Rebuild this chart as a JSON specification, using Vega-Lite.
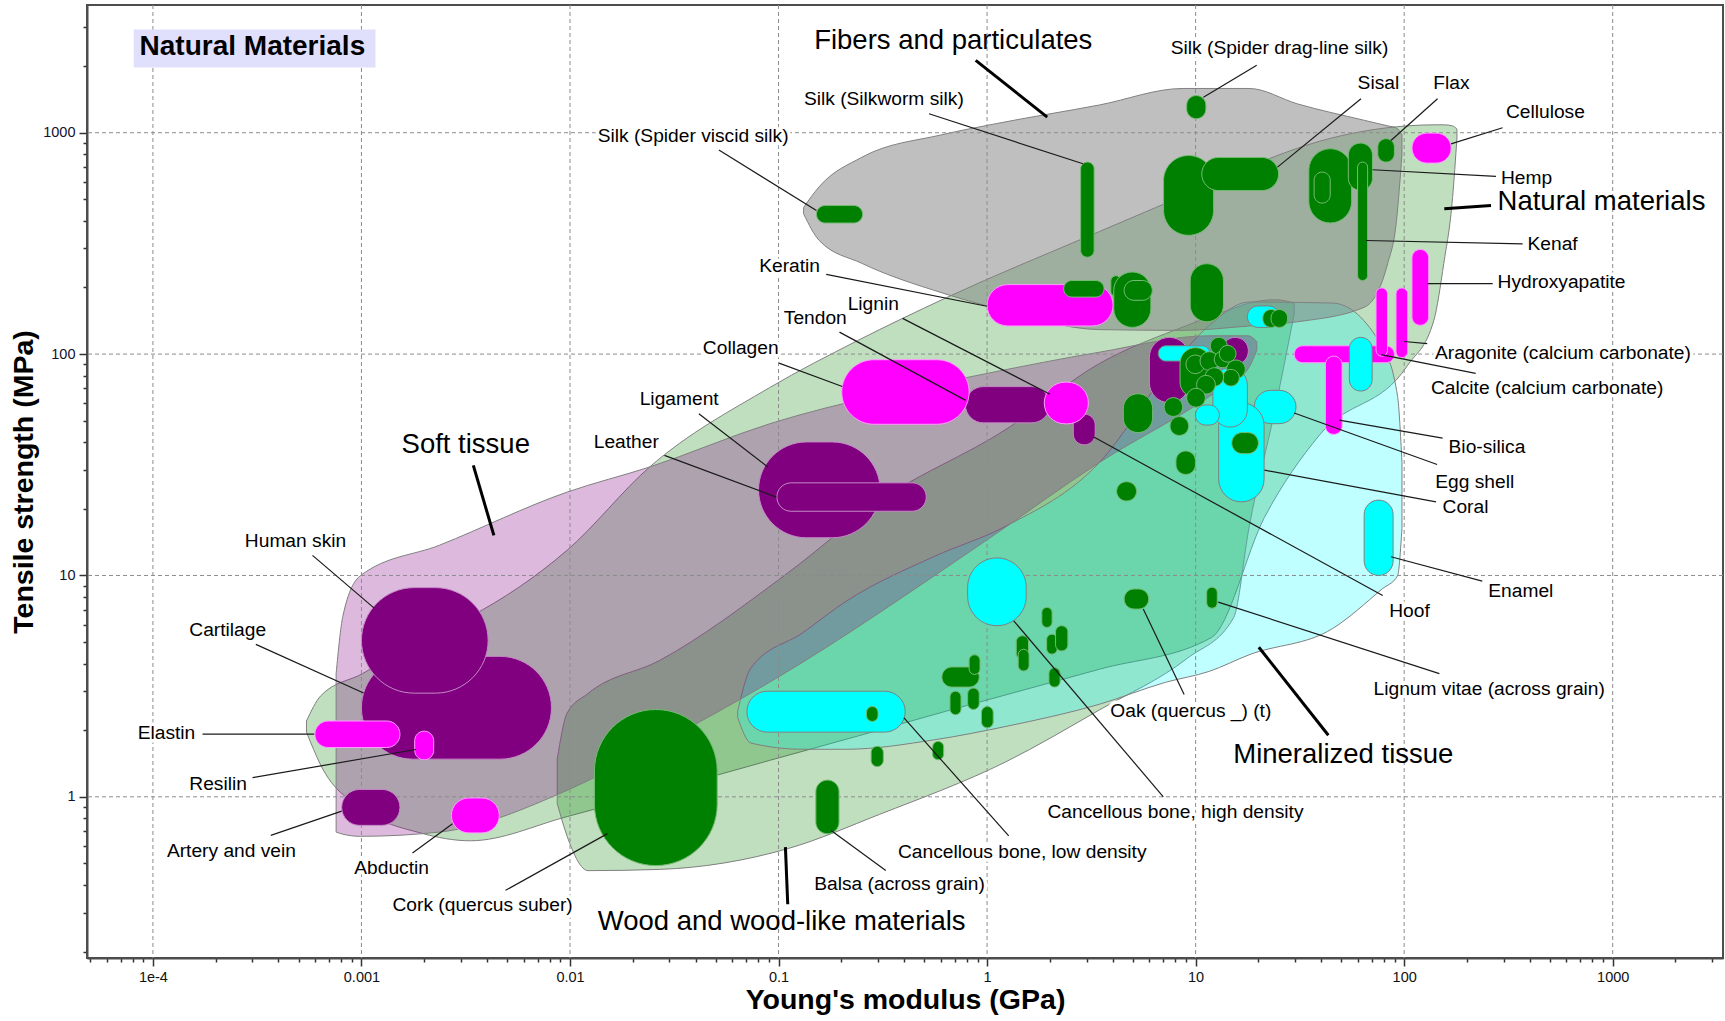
{
"$schema": "https://vega.github.io/schema/vega-lite/v6.json",
"width": 1636, "height": 953,
"autosize": {"type": "none"},
"padding": {"left": 87, "top": 5, "right": 2, "bottom": 63},
"background": "white",
"config": {"view": {"stroke": "#4d4d4d", "strokeWidth": 2}, "font": "Liberation Sans"},
"resolve": {"axis": {"x": "independent", "y": "independent"}},
"datasets": {
"envelopes": [
{"f":"natural","e":0.000545,"s":1.96,"s2":2.20},
{"f":"natural","e":0.000638,"s":1.39,"s2":2.86},
{"f":"natural","e":0.001012,"s":0.882,"s2":3.60},
{"f":"natural","e":0.001927,"s":0.686,"s2":5.19},
{"f":"natural","e":0.003328,"s":0.633,"s2":6.53},
{"f":"natural","e":0.00969,"s":0.814,"s2":13.0},
{"f":"natural","e":0.02409,"s":1.03,"s2":30.9},
{"f":"natural","e":0.0905,"s":1.46,"s2":70.5},
{"f":"natural","e":0.2391,"s":1.88,"s2":115},
{"f":"natural","e":0.6395,"s":2.44,"s2":180},
{"f":"natural","e":3.459,"s":3.77,"s2":358},
{"f":"natural","e":11.94,"s":5.25,"s2":589},
{"f":"natural","e":21.39,"s":18.3,"s2":749},
{"f":"natural","e":39.26,"s":43.1,"s2":915},
{"f":"natural","e":103.7,"s":88.7,"s2":1074},
{"f":"natural","e":138.8,"s":142,"s2":1086},
{"f":"natural","e":154.9,"s":257,"s2":1086},
{"f":"natural","e":170.7,"s":510,"s2":1074},
{"f":"natural","e":179.1,"s":947,"s2":1038},
{"f":"wood","e":0.008685,"s":0.934,"s2":1.48},
{"f":"wood","e":0.00969,"s":0.663,"s2":2.39},
{"f":"wood","e":0.01221,"s":0.464,"s2":2.93},
{"f":"wood","e":0.02688,"s":0.470,"s2":4.13},
{"f":"wood","e":0.1113,"s":0.584,"s2":10.3},
{"f":"wood","e":0.3049,"s":0.833,"s2":21.7},
{"f":"wood","e":1.232,"s":1.44,"s2":45.7},
{"f":"wood","e":3.459,"s":2.47,"s2":90.7},
{"f":"wood","e":9.14,"s":4.23,"s2":135},
{"f":"wood","e":15.22,"s":6.45,"s2":161},
{"f":"wood","e":18.04,"s":16.5,"s2":170},
{"f":"wood","e":24.15,"s":57.4,"s2":176},
{"f":"wood","e":29.69,"s":152,"s2":170},
{"f":"mineral","e":0.0637,"s":2.28,"s2":2.44},
{"f":"mineral","e":0.0736,"s":1.75,"s2":3.81},
{"f":"mineral","e":0.1303,"s":1.64,"s2":5.50},
{"f":"mineral","e":0.2118,"s":1.64,"s2":7.66},
{"f":"mineral","e":0.5597,"s":1.81,"s2":12.2},
{"f":"mineral","e":1.232,"s":2.08,"s2":16.7},
{"f":"mineral","e":3.459,"s":2.62,"s2":32.4},
{"f":"mineral","e":7.17,"s":3.29,"s2":80.9},
{"f":"mineral","e":11.65,"s":3.69,"s2":135},
{"f":"mineral","e":18.04,"s":4.38,"s2":172},
{"f":"mineral","e":45.42,"s":5.76,"s2":170},
{"f":"mineral","e":78.4,"s":8.69,"s2":108},
{"f":"mineral","e":93.0,"s":9.97,"s2":64.4},
{"f":"mineral","e":97.6,"s":16.3,"s2":32.4},
{"f":"soft","e":0.000756,"s":0.693,"s2":3.60},
{"f":"soft","e":0.000814,"s":0.678,"s2":6.53},
{"f":"soft","e":0.000988,"s":0.663,"s2":9.97},
{"f":"soft","e":0.002368,"s":0.693,"s2":13.7},
{"f":"soft","e":0.00969,"s":1.07,"s2":23.8},
{"f":"soft","e":0.02409,"s":1.65,"s2":30.9},
{"f":"soft","e":0.0905,"s":3.29,"s2":48.4},
{"f":"soft","e":1.0024,"s":14.5,"s2":81.8},
{"f":"soft","e":3.459,"s":32.4,"s2":102},
{"f":"soft","e":11.65,"s":64.4,"s2":121},
{"f":"soft","e":17.83,"s":85.7,"s2":121},
{"f":"soft","e":19.65,"s":104,"s2":114},
{"f":"fibers","e":0.1319,"s":430,"s2":460},
{"f":"fibers","e":0.1563,"s":327,"s2":569},
{"f":"fibers","e":0.2511,"s":257,"s2":775},
{"f":"fibers","e":0.6091,"s":189,"s2":980},
{"f":"fibers","e":1.105,"s":161,"s2":1099},
{"f":"fibers","e":3.459,"s":129,"s2":1335},
{"f":"fibers","e":8.71,"s":128,"s2":1585},
{"f":"fibers","e":18.04,"s":134,"s2":1585},
{"f":"fibers","e":30.79,"s":140,"s2":1350},
{"f":"fibers","e":64.6,"s":163,"s2":1137},
{"f":"fibers","e":83.4,"s":257,"s2":1074},
{"f":"fibers","e":91.9,"s":402,"s2":1050},
{"f":"fibers","e":97.6,"s":798,"s2":980}
],
"materials": [
{"n":"Cartilage","c":"soft","e":0.001,"e2":0.00815,"s":1.48,"s2":4.31},
{"n":"Human skin","c":"soft","e":0.001,"e2":0.00405,"s":2.94,"s2":8.81},
{"n":"Artery and vein","c":"soft","e":0.000804,"e2":0.00153,"s":0.743,"s2":1.08},
{"n":"Ligament","c":"soft","e":0.0802,"e2":0.307,"s":14.8,"s2":40.1},
{"n":"Leather","c":"soft","e":0.0982,"e2":0.511,"s":19.5,"s2":26.2},
{"n":"Tendon","c":"soft","e":0.787,"e2":2.0,"s":48.9,"s2":71.3},
{"n":"Hoof","c":"soft","e":2.59,"e2":3.3,"s":38.9,"s2":53.6},
{"n":"Soft tissue (unlabelled 1)","c":"soft","e":6.0,"e2":9.33,"s":60.3,"s2":119},
{"n":"Soft tissue (unlabelled 2)","c":"soft","e":13.4,"e2":17.9,"s":89.8,"s2":119},
{"n":"Elastin","c":"particulate","e":0.000598,"e2":0.00153,"s":1.67,"s2":2.20},
{"n":"Resilin","c":"particulate","e":0.0018,"e2":0.00222,"s":1.47,"s2":1.98},
{"n":"Abductin","c":"particulate","e":0.0027,"e2":0.00458,"s":0.687,"s2":0.988},
{"n":"Collagen","c":"particulate","e":0.201,"e2":0.82,"s":48.2,"s2":94.3},
{"n":"Keratin","c":"particulate","e":1.0,"e2":4.02,"s":134,"s2":206},
{"n":"Lignin","c":"particulate","e":1.88,"e2":3.06,"s":48.4,"s2":74.7},
{"n":"Cellulose","c":"particulate","e":109,"e2":168,"s":729,"s2":996},
{"n":"Hydroxyapatite","c":"particulate","e":109,"e2":131,"s":135,"s2":297},
{"n":"Particulate (unlabelled)","c":"particulate","e":29.7,"e2":89.8,"s":91.4,"s2":109},
{"n":"Calcite (calcium carbonate)","c":"particulate","e":73.3,"e2":83.2,"s":97.8,"s2":199},
{"n":"Aragonite (calcium carbonate)","c":"particulate","e":91.4,"e2":104,"s":96.4,"s2":199},
{"n":"Bio-silica","c":"particulate","e":41.9,"e2":50.4,"s":43.4,"s2":97.9},
{"n":"Cancellous bone, low density","c":"mineralized","e":0.0705,"e2":0.405,"s":1.96,"s2":3.0},
{"n":"Cancellous bone, high density","c":"mineralized","e":0.807,"e2":1.54,"s":5.93,"s2":12.0},
{"n":"Enamel","c":"mineralized","e":64.3,"e2":88.5,"s":10.0,"s2":21.9},
{"n":"Mineralized (unlabelled 1)","c":"mineralized","e":54.6,"e2":70.2,"s":68.1,"s2":119},
{"n":"Egg shell","c":"mineralized","e":19.1,"e2":30.3,"s":48.5,"s2":68.6},
{"n":"Coral","c":"mineralized","e":12.9,"e2":21.3,"s":21.5,"s2":60.3},
{"n":"Mineralized (unlabelled 2)","c":"mineralized","e":12.1,"e2":17.7,"s":46.8,"s2":86.8},
{"n":"Mineralized (unlabelled 3)","c":"mineralized","e":9.98,"e2":13.0,"s":47.8,"s2":58.9},
{"n":"Mineralized (unlabelled 4)","c":"mineralized","e":6.62,"e2":11.7,"s":93,"s2":109},
{"n":"Mineralized (unlabelled 5)","c":"mineralized","e":17.7,"e2":25.2,"s":132,"s2":165},
{"n":"Cork (quercus suber)","c":"plant","e":0.0131,"e2":0.0508,"s":0.489,"s2":2.48},
{"n":"Balsa (across grain)","c":"plant","e":0.151,"e2":0.195,"s":0.681,"s2":1.19},
{"n":"Wood 1","c":"plant","e":0.264,"e2":0.30,"s":2.19,"s2":2.56},
{"n":"Wood 2","c":"plant","e":0.278,"e2":0.318,"s":1.37,"s2":1.69},
{"n":"Wood 3","c":"plant","e":0.548,"e2":0.619,"s":1.47,"s2":1.78},
{"n":"Wood 4","c":"plant","e":0.607,"e2":0.917,"s":3.13,"s2":3.86},
{"n":"Wood 5","c":"plant","e":0.82,"e2":0.925,"s":3.57,"s2":4.38},
{"n":"Wood 6","c":"plant","e":0.664,"e2":0.75,"s":2.35,"s2":3.0},
{"n":"Wood 7","c":"plant","e":0.807,"e2":0.917,"s":2.48,"s2":3.1},
{"n":"Wood 8","c":"plant","e":0.94,"e2":1.07,"s":2.05,"s2":2.56},
{"n":"Wood 9","c":"plant","e":1.83,"e2":2.05,"s":5.82,"s2":7.18},
{"n":"Wood 10","c":"plant","e":1.38,"e2":1.58,"s":4.18,"s2":5.34},
{"n":"Wood 11","c":"plant","e":1.41,"e2":1.59,"s":3.70,"s2":4.64},
{"n":"Wood 12","c":"plant","e":1.93,"e2":2.17,"s":4.41,"s2":5.43},
{"n":"Wood 13","c":"plant","e":2.13,"e2":2.44,"s":4.56,"s2":5.93},
{"n":"Wood 14","c":"plant","e":1.98,"e2":2.24,"s":3.13,"s2":3.83},
{"n":"Oak (quercus _) (t)","c":"plant","e":4.54,"e2":5.96,"s":7.05,"s2":8.69},
{"n":"Lignum vitae (across grain)","c":"plant","e":11.3,"e2":12.7,"s":7.11,"s2":8.85},
{"n":"Wood 15","c":"plant","e":4.18,"e2":5.21,"s":21.7,"s2":26.5},
{"n":"Wood 16","c":"plant","e":8.05,"e2":9.98,"s":28.6,"s2":36.5},
{"n":"Wood 17","c":"plant","e":4.5,"e2":6.22,"s":44.2,"s2":66.2},
{"n":"Wood 18","c":"plant","e":14.9,"e2":20,"s":35.5,"s2":44.2},
{"n":"Wood 19","c":"plant","e":8.42,"e2":11.86,"s":63.6,"s2":106.9},
{"n":"Wood 20","c":"plant","e":8.99,"e2":11.04,"s":81.6,"s2":99.0},
{"n":"Wood 21","c":"plant","e":10.50,"e2":12.89,"s":84.4,"s2":102.5},
{"n":"Wood 22","c":"plant","e":11.76,"e2":14.19,"s":99.7,"s2":119},
{"n":"Wood 23","c":"plant","e":12.29,"e2":14.78,"s":86.8,"s2":103.2},
{"n":"Wood 24","c":"plant","e":12.99,"e2":15.62,"s":92.0,"s2":109.5},
{"n":"Wood 25","c":"plant","e":14.08,"e2":17.31,"s":77.4,"s2":94.0},
{"n":"Wood 26","c":"plant","e":13.47,"e2":16.2,"s":71.7,"s2":85.3},
{"n":"Wood 27","c":"plant","e":11.09,"e2":13.62,"s":71.5,"s2":86.8},
{"n":"Wood 28","c":"plant","e":10.11,"e2":12.43,"s":66.0,"s2":80.1},
{"n":"Wood 29","c":"plant","e":9.06,"e2":11.13,"s":57.6,"s2":70.0},
{"n":"Wood 30","c":"plant","e":7.06,"e2":8.66,"s":52.3,"s2":63.6},
{"n":"Wood 31","c":"plant","e":7.54,"e2":9.26,"s":42.9,"s2":52.2},
{"n":"Wood 32","c":"plant","e":21.0,"e2":25.2,"s":132,"s2":159},
{"n":"Wood 33","c":"plant","e":23.0,"e2":27.6,"s":132,"s2":159},
{"n":"Silk (Spider viscid silk)","c":"plant","e":0.152,"e2":0.253,"s":391,"s2":469},
{"n":"Silk (Silkworm silk)","c":"plant","e":2.81,"e2":3.26,"s":274,"s2":737},
{"n":"Silk (Spider drag-line silk)","c":"plant","e":9.06,"e2":11.2,"s":1157,"s2":1472},
{"n":"Fiber 1","c":"plant","e":2.33,"e2":3.64,"s":181,"s2":215},
{"n":"Fiber 2","c":"plant","e":3.92,"e2":4.39,"s":182,"s2":226},
{"n":"Fiber 3","c":"plant","e":4.05,"e2":6.1,"s":132,"s2":235},
{"n":"Fiber 4","c":"plant","e":4.54,"e2":6.2,"s":175,"s2":215},
{"n":"Fiber 5","c":"plant","e":9.42,"e2":13.6,"s":140,"s2":256},
{"n":"Fiber 6","c":"plant","e":7.02,"e2":12.2,"s":344,"s2":789},
{"n":"Sisal","c":"plant","e":10.7,"e2":25,"s":548,"s2":773},
{"n":"Fiber 7","c":"plant","e":34.9,"e2":56,"s":391,"s2":847},
{"n":"Fiber 8","c":"plant","e":37,"e2":44.2,"s":481,"s2":664},
{"n":"Hemp","c":"plant","e":54,"e2":70.5,"s":549,"s2":898},
{"n":"Kenaf","c":"plant","e":59.8,"e2":66.8,"s":215,"s2":737},
{"n":"Flax","c":"plant","e":74.7,"e2":89.8,"s":737,"s2":940}
],
"leaders": [
{"e":0.5266,"s":1218,"e2":2.884,"s2":723.9},
{"e":0.05177,"s":835,"e2":0.152,"s2":445},
{"e":19.64,"s":2017,"e2":10.9,"s2":1446},
{"e":62.1,"s":1423,"e2":24.7,"s2":699},
{"e":144.6,"s":1423,"e2":86.4,"s2":922.6},
{"e":296.5,"s":1053,"e2":167.8,"s2":891},
{"e":275.7,"s":634.7,"e2":70.6,"s2":680.5},
{"e":369.8,"s":315,"e2":65.6,"s2":326},
{"e":265.8,"s":208,"e2":129.5,"s2":208},
{"e":129,"s":111.5,"e2":100,"s2":114},
{"e":220.3,"s":81.8,"e2":77.5,"s2":99.4},
{"e":152.9,"s":41.7,"e2":48.8,"s2":50.3},
{"e":143.9,"s":31.7,"e2":29.7,"s2":54.2},
{"e":142.2,"s":21.5,"e2":21.4,"s2":29.9},
{"e":236.9,"s":9.42,"e2":86.4,"s2":12.15},
{"e":78.9,"s":8.12,"e2":3.25,"s2":42.2},
{"e":147.5,"s":3.60,"e2":12.84,"s2":7.58},
{"e":8.81,"s":2.90,"e2":5.61,"s2":7.05},
{"e":7.0,"s":1.0,"e2":1.342,"s2":6.24},
{"e":1.270,"s":0.6655,"e2":0.3996,"s2":2.272},
{"e":0.3268,"s":0.4647,"e2":0.1787,"s2":0.7046},
{"e":0.004908,"s":0.378,"e2":0.01513,"s2":0.6818},
{"e":0.001757,"s":0.558,"e2":0.002733,"s2":0.7563},
{"e":0.0003676,"s":0.670,"e2":0.000804,"s2":0.862},
{"e":0.0003004,"s":1.22,"e2":0.001823,"s2":1.636},
{"e":0.0001729,"s":1.92,"e2":0.0005932,"s2":1.92},
{"e":0.0003116,"s":4.883,"e2":0.001024,"s2":2.942},
{"e":0.0005825,"s":12.32,"e2":0.001151,"s2":7.12},
{"e":0.02838,"s":34.86,"e2":0.09761,"s2":22.6},
{"e":0.04149,"s":53.8,"e2":0.08879,"s2":30.9},
{"e":0.1006,"s":91.0,"e2":0.2022,"s2":71.4},
{"e":0.196,"s":125.7,"e2":0.790,"s2":61.8},
{"e":0.3935,"s":145,"e2":2.003,"s2":65.85},
{"e":0.1694,"s":229.2,"e2":0.9976,"s2":164.5}
],
"pointers": [
{"e":0.882,"s":2122,"e2":1.943,"s2":1177},
{"e":261.0,"s":469.2,"e2":155.8,"s2":453.4},
{"e":0.003439,"s":31.42,"e2":0.004315,"s2":15.18},
{"e":0.1079,"s":0.5928,"e2":0.1107,"s2":0.3273},
{"e":20.1,"s":4.74,"e2":43.3,"s2":1.898}
],
"labels": [
{"t":"Silk (Spider drag-line silk)","e":7.60,"s":2403},
{"t":"Silk (Silkworm silk)","e":0.1323,"s":1414},
{"t":"Silk (Spider viscid silk)","e":0.01358,"s":962},
{"t":"Sisal","e":59.8,"s":1670},
{"t":"Flax","e":137.9,"s":1679},
{"t":"Cellulose","e":307.6,"s":1235},
{"t":"Hemp","e":291.1,"s":625},
{"t":"Kenaf","e":390.5,"s":313},
{"t":"Hydroxyapatite","e":280.4,"s":211.9},
{"t":"Aragonite (calcium carbonate)","e":140.5,"s":100.7},
{"t":"Calcite (calcium carbonate)","e":134.4,"s":70.0},
{"t":"Bio-silica","e":163.3,"s":37.9},
{"t":"Egg shell","e":141.0,"s":26.5},
{"t":"Coral","e":152.8,"s":20.3},
{"t":"Enamel","e":253.1,"s":8.52},
{"t":"Hoof","e":84.8,"s":6.92},
{"t":"Lignum vitae (across grain)","e":71.3,"s":3.06},
{"t":"Oak (quercus _) (t)","e":3.90,"s":2.45},
{"t":"Cancellous bone, high density","e":1.948,"s":0.851},
{"t":"Cancellous bone, low density","e":0.374,"s":0.5614},
{"t":"Balsa (across grain)","e":0.1484,"s":0.4025},
{"t":"Cork (quercus suber)","e":0.001409,"s":0.3236},
{"t":"Abductin","e":0.000924,"s":0.4754},
{"t":"Artery and vein","e":0.0001167,"s":0.5705},
{"t":"Resilin","e":0.0001494,"s":1.145},
{"t":"Elastin","e":0.0000845,"s":1.935},
{"t":"Cartilage","e":0.0001494,"s":5.68},
{"t":"Human skin","e":0.000276,"s":14.26},
{"t":"Leather","e":0.0130,"s":40.05},
{"t":"Ligament","e":0.02159,"s":62.4},
{"t":"Collagen","e":0.04336,"s":106.1},
{"t":"Tendon","e":0.106,"s":145.7},
{"t":"Lignin","e":0.2145,"s":167.6},
{"t":"Keratin","e":0.0808,"s":248.9}
],
"families": [
{"t":"Fibers and particulates","e":0.1482,"s":2585},
{"t":"Natural materials","e":280.4,"s":484.4},
{"t":"Soft tissue","e":0.001557,"s":38.7},
{"t":"Wood and wood-like materials","e":0.01358,"s":0.2725},
{"t":"Mineralized tissue","e":15.15,"s":1.548}
],
"titlebox": [{"t":"Natural Materials","e":0.0000863,"s":2428,"b1":0.0000809,"b2":0.001168,"c1":1972,"c2":2928}],
"xgrid": [{"e":0.0001},{"e":0.001},{"e":0.01},{"e":0.1},{"e":1},{"e":10},{"e":100},{"e":1000}],
"ygrid": [{"s":1},{"s":10},{"s":100},{"s":1000}]
},
"layer": [
{"data":{"name":"envelopes"},"transform":[{"filter":"datum.f === 'natural'"}],
 "mark":{"type":"area","interpolate":"monotone","fill":"#008000","fillOpacity":0.25,"stroke":"#808080","strokeWidth":1},
 "encoding":{
  "x":{"field":"e","type":"quantitative","scale":{"type":"log","domain":[0.0000483,3380],"nice":false},
   "axis":{"orient":"bottom","title":"Young's modulus (GPa)","tickCount":20,"grid":false,"labelOverlap":false,"labelFlush":false,"labelBound":false,
    "labelExpr":"abs(log(datum.value)/LN10 - round(log(datum.value)/LN10)) < 0.01 ? (datum.value < 0.0005 ? '1e-4' : format(datum.value, '~g')) : ''",
    "tickSize":{"condition":{"test":"abs(log(datum.value)/LN10 - round(log(datum.value)/LN10)) < 0.01","value":8},"value":4},
    "tickColor":"#333333","tickWidth":1.5,"domainColor":"#4d4d4d","domainWidth":2,"labelFontSize":14.5,"labelColor":"#111111","labelPadding":4,
    "titleFontSize":28.5,"titleFontWeight":"bold","titleColor":"#000000","titlePadding":2}},
  "y":{"field":"s","type":"quantitative","scale":{"type":"log","domain":[0.187,3776],"nice":false},
   "axis":{"orient":"left","title":"Tensile strength (MPa)","tickCount":10,"grid":false,"labelOverlap":false,"labelFlush":false,"labelBound":false,
    "labelExpr":"abs(log(datum.value)/LN10 - round(log(datum.value)/LN10)) < 0.01 ? format(datum.value, '~g') : ''",
    "tickSize":{"condition":{"test":"abs(log(datum.value)/LN10 - round(log(datum.value)/LN10)) < 0.01","value":8},"value":4},
    "tickColor":"#333333","tickWidth":1.5,"domainColor":"#4d4d4d","domainWidth":2,"labelFontSize":14.5,"labelColor":"#111133","labelPadding":4,
    "titleFontSize":28.5,"titleFontWeight":"bold","titleColor":"#000000","titlePadding":4}},
  "y2":{"field":"s2"}}},
{"data":{"name":"envelopes"},"transform":[{"filter":"datum.f === 'wood'"}],
 "mark":{"type":"area","interpolate":"monotone","fill":"#008000","fillOpacity":0.25,"stroke":"#808080","strokeWidth":1},
 "encoding":{"x":{"field":"e","type":"quantitative","scale":{"type":"log","domain":[0.0000483,3380],"nice":false},"axis":null},
  "y":{"field":"s","type":"quantitative","scale":{"type":"log","domain":[0.187,3776],"nice":false},"axis":null},"y2":{"field":"s2"}}},
{"data":{"name":"envelopes"},"transform":[{"filter":"datum.f === 'mineral'"}],
 "mark":{"type":"area","interpolate":"monotone","fill":"#00ffff","fillOpacity":0.25,"stroke":"#808080","strokeWidth":1},
 "encoding":{"x":{"field":"e","type":"quantitative","scale":{"type":"log","domain":[0.0000483,3380],"nice":false},"axis":null},
  "y":{"field":"s","type":"quantitative","scale":{"type":"log","domain":[0.187,3776],"nice":false},"axis":null},"y2":{"field":"s2"}}},
{"data":{"name":"envelopes"},"transform":[{"filter":"datum.f === 'soft'"}],
 "mark":{"type":"area","interpolate":"monotone","fill":"#800080","fillOpacity":0.27,"stroke":"#808080","strokeWidth":1},
 "encoding":{"x":{"field":"e","type":"quantitative","scale":{"type":"log","domain":[0.0000483,3380],"nice":false},"axis":null},
  "y":{"field":"s","type":"quantitative","scale":{"type":"log","domain":[0.187,3776],"nice":false},"axis":null},"y2":{"field":"s2"}}},
{"data":{"name":"envelopes"},"transform":[{"filter":"datum.f === 'fibers'"}],
 "mark":{"type":"area","interpolate":"monotone","fill":"#808080","fillOpacity":0.5,"stroke":"#808080","strokeWidth":1},
 "encoding":{"x":{"field":"e","type":"quantitative","scale":{"type":"log","domain":[0.0000483,3380],"nice":false},"axis":null},
  "y":{"field":"s","type":"quantitative","scale":{"type":"log","domain":[0.187,3776],"nice":false},"axis":null},"y2":{"field":"s2"}}},
{"data":{"name":"xgrid"},"mark":{"type":"rule","stroke":"#8c8c8c","strokeWidth":1,"strokeDash":[4,3]},
 "encoding":{"x":{"field":"e","type":"quantitative","scale":{"type":"log","domain":[0.0000483,3380],"nice":false},"axis":null}}},
{"data":{"name":"ygrid"},"mark":{"type":"rule","stroke":"#8c8c8c","strokeWidth":1,"strokeDash":[4,3]},
 "encoding":{"y":{"field":"s","type":"quantitative","scale":{"type":"log","domain":[0.187,3776],"nice":false},"axis":null}}},
{"data":{"name":"materials"},"mark":{"type":"rect","cornerRadius":9999,"strokeWidth":1},
 "encoding":{"x":{"field":"e","type":"quantitative","scale":{"type":"log","domain":[0.0000483,3380],"nice":false},"axis":null},
  "x2":{"field":"e2"},
  "y":{"field":"s","type":"quantitative","scale":{"type":"log","domain":[0.187,3776],"nice":false},"axis":null},
  "y2":{"field":"s2"},
  "fill":{"field":"c","type":"nominal","scale":{"domain":["soft","particulate","mineralized","plant"],"range":["#800080","#ff00ff","#00ffff","#008000"]},"legend":null},
  "stroke":{"field":"c","type":"nominal","scale":{"domain":["soft","particulate","mineralized","plant"],"range":["#c48ac4","#ff9cff","#808080","#74bb74"]},"legend":null},
  "tooltip":{"field":"n"}}},
{"data":{"name":"leaders"},"mark":{"type":"rule","stroke":"#1a1a1a","strokeWidth":1.2},
 "encoding":{"x":{"field":"e","type":"quantitative","scale":{"type":"log","domain":[0.0000483,3380],"nice":false},"axis":null},"x2":{"field":"e2"},
  "y":{"field":"s","type":"quantitative","scale":{"type":"log","domain":[0.187,3776],"nice":false},"axis":null},"y2":{"field":"s2"}}},
{"data":{"name":"pointers"},"mark":{"type":"rule","stroke":"#000000","strokeWidth":3},
 "encoding":{"x":{"field":"e","type":"quantitative","scale":{"type":"log","domain":[0.0000483,3380],"nice":false},"axis":null},"x2":{"field":"e2"},
  "y":{"field":"s","type":"quantitative","scale":{"type":"log","domain":[0.187,3776],"nice":false},"axis":null},"y2":{"field":"s2"}}},
{"data":{"name":"labels"},"mark":{"type":"text","align":"left","baseline":"middle","fontSize":19.2,"fill":"white","stroke":"white","strokeWidth":7,"strokeJoin":"round"},
 "encoding":{"x":{"field":"e","type":"quantitative","scale":{"type":"log","domain":[0.0000483,3380],"nice":false},"axis":null},
  "y":{"field":"s","type":"quantitative","scale":{"type":"log","domain":[0.187,3776],"nice":false},"axis":null},"text":{"field":"t"}}},
{"data":{"name":"labels"},"mark":{"type":"text","align":"left","baseline":"middle","fontSize":19.2,"fill":"#000000"},
 "encoding":{"x":{"field":"e","type":"quantitative","scale":{"type":"log","domain":[0.0000483,3380],"nice":false},"axis":null},
  "y":{"field":"s","type":"quantitative","scale":{"type":"log","domain":[0.187,3776],"nice":false},"axis":null},"text":{"field":"t"}}},
{"data":{"name":"families"},"mark":{"type":"text","align":"left","baseline":"middle","fontSize":27.5,"fill":"#000000"},
 "encoding":{"x":{"field":"e","type":"quantitative","scale":{"type":"log","domain":[0.0000483,3380],"nice":false},"axis":null},
  "y":{"field":"s","type":"quantitative","scale":{"type":"log","domain":[0.187,3776],"nice":false},"axis":null},"text":{"field":"t"}}},
{"data":{"name":"titlebox"},"mark":{"type":"rect","fill":"#e0e0fc"},
 "encoding":{"x":{"field":"b1","type":"quantitative","scale":{"type":"log","domain":[0.0000483,3380],"nice":false},"axis":null},"x2":{"field":"b2"},
  "y":{"field":"c1","type":"quantitative","scale":{"type":"log","domain":[0.187,3776],"nice":false},"axis":null},"y2":{"field":"c2"}}},
{"data":{"name":"titlebox"},"mark":{"type":"text","align":"left","baseline":"middle","fontSize":28,"fontWeight":"bold","fill":"#000000"},
 "encoding":{"x":{"field":"e","type":"quantitative","scale":{"type":"log","domain":[0.0000483,3380],"nice":false},"axis":null},
  "y":{"field":"s","type":"quantitative","scale":{"type":"log","domain":[0.187,3776],"nice":false},"axis":null},"text":{"field":"t"}}}
]
}
